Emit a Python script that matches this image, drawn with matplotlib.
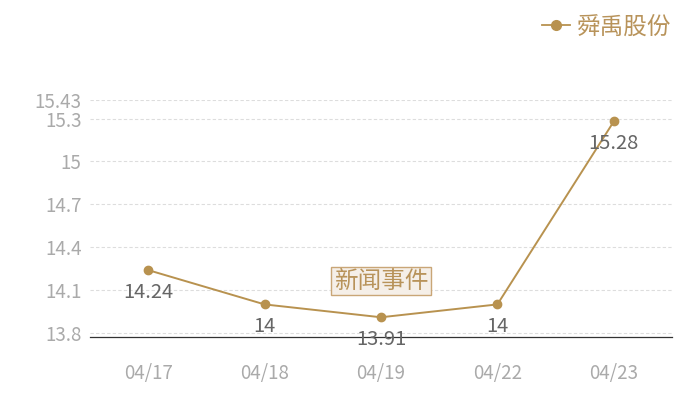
import matplotlib
matplotlib.use("Agg")
import matplotlib.pyplot as plt
from matplotlib.lines import Line2D

plt.rcParams['font.family'] = ['Noto Sans CJK SC', 'DejaVu Sans']

dates = ["04/17", "04/18", "04/19", "04/22", "04/23"]
prices = [14.24, 14.00, 13.91, 14.00, 15.28]
price_labels = ["14.24", "14", "13.91", "14", "15.28"]
yticks = [13.8, 14.1, 14.4, 14.7, 15.0, 15.3, 15.43]
ytick_labels = ["13.8", "14.1", "14.4", "14.7", "15", "15.3", "15.43"]
series_name = "舜禹股份"
event_text = "新闻事件"
event_index = 2

line_color = "#b8924f"
fig = plt.figure(figsize=(7, 4), dpi=100)
ax = fig.add_axes([90/700, 1-337/400, 582/700, 237/400])

x = list(range(len(dates)))
ax.plot(x, prices, color=line_color, lw=1.4, marker='o', ms=6, zorder=3)
for xi, yi, lab in zip(x, prices, price_labels):
    ax.annotate(lab, (xi, yi), xytext=(0, -16), textcoords='offset points',
                ha='center', va='center', fontsize=14.5, color='#666666', zorder=4)

ax.annotate(event_text, (event_index, prices[event_index]), xytext=(0, 26),
            textcoords='offset points', ha='center', va='center', fontsize=17,
            color='#b8935a', zorder=5,
            bbox=dict(boxstyle='square,pad=0.1', fc='#f5efe8', ec='#c9a677', lw=1))

ax.set_xlim(-0.5, len(dates) - 0.5)
ax.set_ylim(13.772, 15.43)
ax.set_xticks(x)
ax.set_xticklabels(dates)
ax.set_yticks(yticks)
ax.set_yticklabels(ytick_labels)
ax.tick_params(axis='both', length=0, labelsize=13.5, colors='#aaaaaa')
ax.tick_params(axis='x', pad=19)
ax.tick_params(axis='y', pad=6)
ax.grid(axis='y', color='#dddddd', ls=(0, (3, 2)), lw=0.8)
ax.set_axisbelow(True)
for s in ['top', 'right', 'left']:
    ax.spines[s].set_visible(False)
ax.spines['bottom'].set_color('#333333')
ax.spines['bottom'].set_linewidth(0.9)

handle = Line2D([], [], color=line_color, lw=1.3, marker='o', ms=7)
fig.legend([handle], [series_name], loc='upper right', bbox_to_anchor=(0.99, 1.015),
           frameon=False, fontsize=17, labelcolor='#b8935a', handlelength=1.2,
           handletextpad=0.3)

fig.savefig("out.png", dpi=100)
